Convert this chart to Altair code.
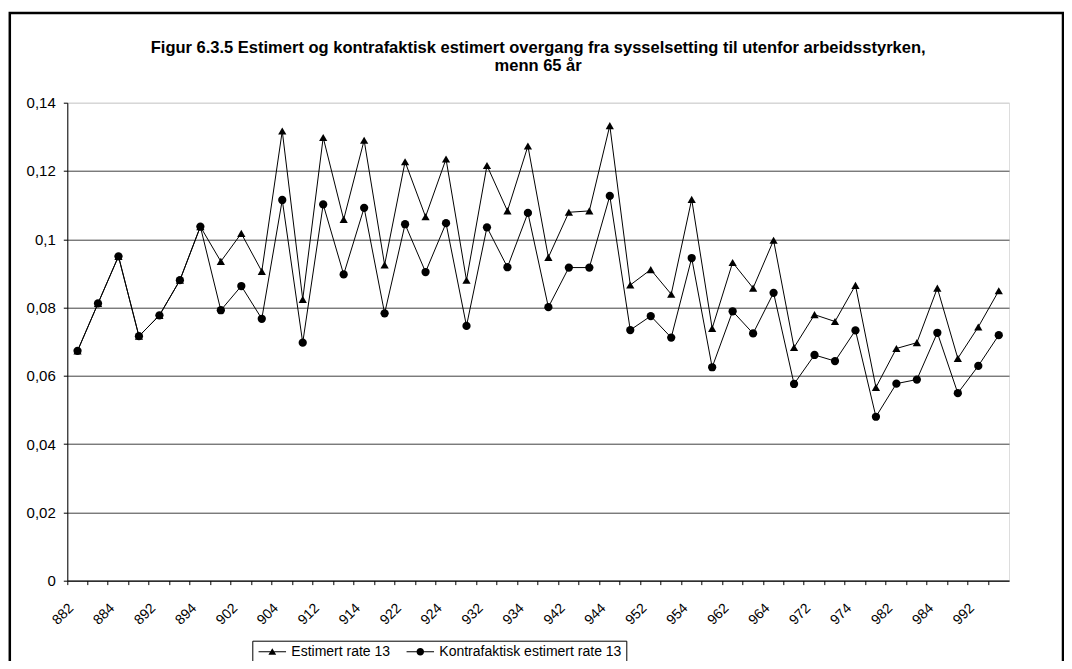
import altair as alt
import pandas as pd

periods = ["882", "883", "884",
           "891", "892", "893", "894",
           "901", "902", "903", "904",
           "911", "912", "913", "914",
           "921", "922", "923", "924",
           "931", "932", "933", "934",
           "941", "942", "943", "944",
           "951", "952", "953", "954",
           "961", "962", "963", "964",
           "971", "972", "973", "974",
           "981", "982", "983", "984",
           "991", "992", "993"]

estimert = [0.0673, 0.0812, 0.0950, 0.0716, 0.0777, 0.0880, 0.1037,
            0.0935, 0.1017, 0.0906, 0.1317, 0.0824, 0.1298, 0.1058,
            0.1290, 0.0925, 0.1227, 0.1066, 0.1235, 0.0880, 0.1216,
            0.1083, 0.1273, 0.0947, 0.1079, 0.1083, 0.1333, 0.0866,
            0.0911, 0.0839, 0.1117, 0.0739, 0.0932, 0.0857, 0.0997,
            0.0683, 0.0779, 0.0759, 0.0865, 0.0566, 0.0680, 0.0697,
            0.0857, 0.0651, 0.0743, 0.0849]

kontrafaktisk = [0.0673, 0.0812, 0.0950, 0.0716, 0.0777, 0.0880, 0.1037,
                 0.0792, 0.0863, 0.0767, 0.1115, 0.0697, 0.1102, 0.0897,
                 0.1092, 0.0783, 0.1044, 0.0904, 0.1047, 0.0746, 0.1035,
                 0.0918, 0.1077, 0.0801, 0.0917, 0.0917, 0.1127, 0.0734,
                 0.0775, 0.0712, 0.0945, 0.0625, 0.0789, 0.0724, 0.0843,
                 0.0576, 0.0661, 0.0643, 0.0733, 0.0480, 0.0577, 0.0589,
                 0.0726, 0.0549, 0.0629, 0.0719]

tick_labels = ["882", "884", "892", "894", "902", "904", "912", "914",
               "922", "924", "932", "934", "942", "944", "952", "954",
               "962", "964", "972", "974", "982", "984", "992"]

y_ticks = [0, 0.02, 0.04, 0.06, 0.08, 0.1, 0.12, 0.14]

series_names = ["Estimert rate 13", "Kontrafaktisk estimert rate 13"]

title_lines = ["Figur 6.3.5 Estimert og kontrafaktisk estimert overgang fra sysselsetting til utenfor arbeidsstyrken,",
               "menn 65 år"]

df = pd.concat([
    pd.DataFrame({"periode": periods, "serie": series_names[0], "rate": estimert}),
    pd.DataFrame({"periode": periods, "serie": series_names[1], "rate": kontrafaktisk}),
], ignore_index=True)

FONT = "Liberation Sans"
W, H = 941.7, 477.9
PAD_L, PAD_T = 59.3, 94.7
PAD_R = 1056 - PAD_L - W
PAD_B = 653 - PAD_T - H

label_list = "[" + ",".join("'%s'" % t for t in tick_labels) + "]"

x_enc = alt.X(
    "periode:N",
    sort=periods,
    scale=alt.Scale(type="band", paddingInner=0, paddingOuter=0),
    axis=alt.Axis(
        title=None,
        bandPosition=0,
        labelOffset=-6,
        labelAngle=315,
        labelAlign="right",
        labelBaseline="middle",
        labelPadding=21,
        labelExpr="indexof(%s, datum.value) >= 0 ? datum.value : ''" % label_list,
        labelFont=FONT,
        labelFontSize=14,
        labelColor="black",
        tickSize=4,
        tickColor="black",
        domainColor="black",
        grid=False,
    ),
)

y_enc = alt.Y(
    "rate:Q",
    scale=alt.Scale(domain=[0, 0.14], nice=False, zero=True),
    axis=alt.Axis(
        title=None,
        values=y_ticks,
        labelExpr="replace(format(datum.value, '~g'), '.', ',')",
        labelFont=FONT,
        labelFontSize=15,
        labelColor="black",
        labelPadding=8,
        tickSize=4,
        tickColor="black",
        domainColor="black",
        grid=True,
        gridColor=alt.condition("datum.value >= 0.139", alt.value("#cfcfcf"), alt.value("#404040")),
        gridWidth=1,
    ),
)

base = alt.Chart(df)

lines = base.mark_line(color="black", strokeWidth=1).encode(
    x=x_enc, y=y_enc, detail="serie:N"
)

points = base.mark_point(filled=True, size=68, color="black", opacity=1).encode(
    x=x_enc,
    y=y_enc,
    shape=alt.Shape("serie:N",
                    scale=alt.Scale(domain=series_names, range=["triangle-up", "circle"]),
                    legend=None),
)

tri_path = "M-2.2,-0.08H2.2V0.08H-2.2ZM0,-0.55L0.62,0.5L-0.62,0.5Z"
circ_path = ("M-2.2,-0.08H2.2V0.08H-2.2Z"
             "M0.6,0A0.6,0.6 0 1,1 -0.6,0A0.6,0.6 0 1,1 0.6,0Z")

legend_layer = base.mark_point(filled=True, color="black", opacity=1).encode(
    x=x_enc,
    y=y_enc,
    shape=alt.Shape("serie:N",
                    scale=alt.Scale(domain=series_names, range=[tri_path, circ_path]),
                    legend=alt.Legend(
                        title=None,
                        orient="none",
                        legendX=185,
                        legendY=538,
                        direction="horizontal",
                        symbolSize=156,
                        symbolStrokeWidth=0,
                        symbolFillColor="black",
                        symbolOffset=9,
                        labelOffset=12,
                        labelFont=FONT,
                        labelFontSize=14,
                        labelColor="black",
                        labelLimit=400,
                        columnPadding=14,
                        padding=4,
                        strokeColor="black",
                    )),
).transform_filter("false")

frame = alt.Chart(pd.DataFrame({"a": [0]})).mark_rect(
    fillOpacity=0, stroke="black", strokeWidth=2.5
).encode(
    x=alt.value(-57.5), x2=alt.value(995.7), y=alt.value(-89.7), y2=alt.value(640)
)

chart = alt.layer(frame, lines, points, legend_layer).resolve_scale(
    shape="independent"
).properties(
    width=W,
    height=H,
    title=alt.Title(
        text=title_lines,
        font=FONT,
        fontSize=16.5,
        fontWeight="bold",
        color="black",
        anchor="middle",
        frame="group",
        lineHeight=18.5,
        offset=0,
        dy=63,
    ),
    autosize=alt.AutoSizeParams(type="none"),
    padding={"left": PAD_L, "top": PAD_T, "right": PAD_R, "bottom": PAD_B},
).configure_view(stroke=None).configure(background="white")

chart.save("out.html", embed_options={"renderer": "svg", "actions": False})
